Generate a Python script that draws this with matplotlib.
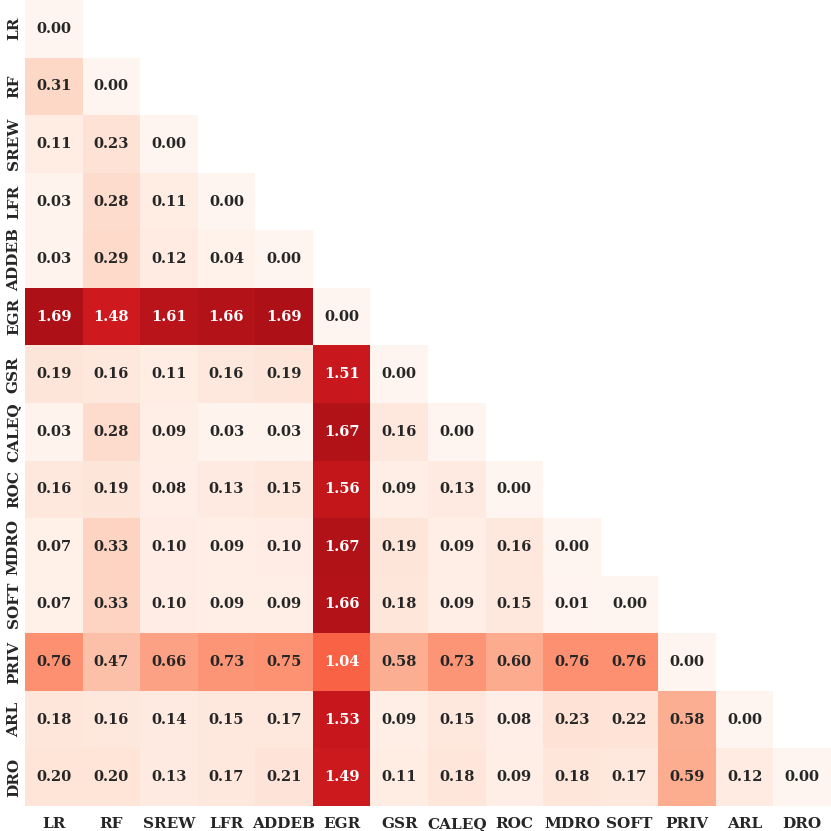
import numpy as np
import matplotlib
matplotlib.use("Agg")
import matplotlib.pyplot as plt
import seaborn as sns

labels = ["LR", "RF", "SREW", "LFR", "ADDEB", "EGR", "GSR", "CALEQ", "ROC",
          "MDRO", "SOFT", "PRIV", "ARL", "DRO"]

rows = [
    [0.00],
    [0.31, 0.00],
    [0.11, 0.23, 0.00],
    [0.03, 0.28, 0.11, 0.00],
    [0.03, 0.29, 0.12, 0.04, 0.00],
    [1.69, 1.48, 1.61, 1.66, 1.69, 0.00],
    [0.19, 0.16, 0.11, 0.16, 0.19, 1.51, 0.00],
    [0.03, 0.28, 0.09, 0.03, 0.03, 1.67, 0.16, 0.00],
    [0.16, 0.19, 0.08, 0.13, 0.15, 1.56, 0.09, 0.13, 0.00],
    [0.07, 0.33, 0.10, 0.09, 0.10, 1.67, 0.19, 0.09, 0.16, 0.00],
    [0.07, 0.33, 0.10, 0.09, 0.09, 1.66, 0.18, 0.09, 0.15, 0.01, 0.00],
    [0.76, 0.47, 0.66, 0.73, 0.75, 1.04, 0.58, 0.73, 0.60, 0.76, 0.76, 0.00],
    [0.18, 0.16, 0.14, 0.15, 0.17, 1.53, 0.09, 0.15, 0.08, 0.23, 0.22, 0.58, 0.00],
    [0.20, 0.20, 0.13, 0.17, 0.21, 1.49, 0.11, 0.18, 0.09, 0.18, 0.17, 0.59, 0.12, 0.00],
]

n = len(labels)
M = np.full((n, n), np.nan)
for i, r in enumerate(rows):
    M[i, :len(r)] = r
mask = np.isnan(M)

fig = plt.figure(figsize=(8.31, 8.31), dpi=100)
ax = fig.add_axes([25/831, 25/831, 806/831, 806/831])
sns.heatmap(M, mask=mask, cmap="Reds", vmin=0, vmax=2, annot=True, fmt=".2f",
            cbar=False, square=False, ax=ax,
            annot_kws={"fontsize": 10.5, "fontweight": "bold", "family": "DejaVu Serif"},
            xticklabels=labels, yticklabels=labels)
for t in ax.texts:
    if t.get_color() not in ("w", "white", (1, 1, 1, 1)):
        t.set_color("#262626")
ax.tick_params(axis="x", length=0, pad=8)
ax.tick_params(axis="y", length=0, pad=3)
for lab in ax.get_xticklabels():
    lab.set_fontfamily("DejaVu Serif"); lab.set_fontweight("bold"); lab.set_fontsize(11)
    lab.set_color("#262626"); lab.set_rotation(0)
for lab in ax.get_yticklabels():
    lab.set_fontfamily("DejaVu Serif"); lab.set_fontweight("bold"); lab.set_fontsize(11)
    lab.set_color("#262626"); lab.set_rotation(90); lab.set_va("center")
fig.savefig("out.png", dpi=100)
